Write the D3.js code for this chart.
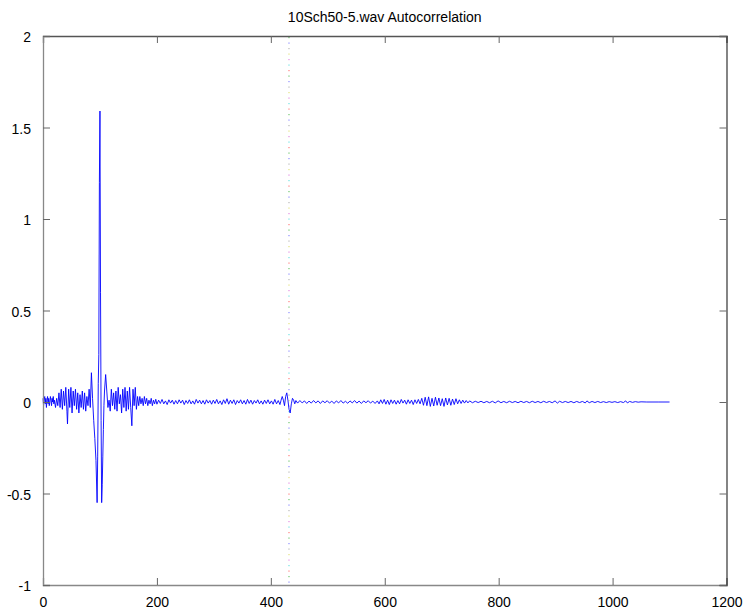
<!DOCTYPE html>
<html>
<head>
<meta charset="utf-8">
<script src="https://cdn.jsdelivr.net/npm/d3@7"></script>
<style>
  html, body { margin: 0; padding: 0; background: #fff; }
  svg { display: block; }
  text { font-family: "Liberation Sans", Arial, Helvetica, sans-serif; font-size: 14px; fill: #000; }
</style>
</head>
<body>
<script>
const chartTitle = "10Sch50-5.wav Autocorrelation";
const xTicks = [0, 200, 400, 600, 800, 1000, 1200];
const yTicks = [-1, -0.5, 0, 0.5, 1, 1.5, 2];
const xDomain = [0, 1200];
const yDomain = [-1, 2];
const markerLag = 431;
const markerColors = ["#55bb55", "#7777ff", "#aaaaaa", "#dddd66", "#dd77dd", "#55dddd", "#ff6666"];

// [lag, autocorrelation]
const headSegment = [
  [0,0.02],[1,-0.02],[2,0.01],[3,0.03],[4,-0.01],[5,0.02],[6,-0.03],[7,0.01],[8,0.03],[9,-0.01],
  [10,0.02],[11,-0.02],[12,0.0],[13,0.03],[14,0.01],[15,-0.02],[16,0.02],[17,0.0],[18,0.03],[19,-0.01],
  [20,0.01],[22,-0.03],[24,0.02],[26,-0.02],[28,0.05],[30,-0.03],[32,0.07],[34,-0.04],[36,0.06],[38,-0.02],
  [40,0.08],[42,-0.05],[43,-0.12],[45,0.07],[47,-0.03],[49,0.08],[51,-0.06],[53,0.06],[55,-0.02],[57,0.07],
  [59,-0.04],[61,0.05],[63,-0.06],[65,0.04],[67,-0.03],[69,0.06],[71,-0.04],[73,0.05],[75,-0.05],[77,0.03],
  [79,-0.02],[81,0.07],[83,-0.03],[85,0.16],[87,0.02],[89,-0.1],[91,-0.2],[93,-0.32]
];
const mainPulse = [
  [95,-0.55],[96,-0.3],[97,0.1],[98,0.26],[99,1.2],[100,1.59],[101,0.6],[102,-0.1],[103,-0.55],
  [104,-0.45],[105,-0.3],[106,-0.15],[107,-0.02],[108,0.06],[110,0.15],[112,0.06],[114,-0.03]
];
const decaySegment = [
  [116,0.01],[118,-0.05],[120,0.07],[122,-0.02],[124,0.05],[126,-0.04],[128,0.06],[130,-0.05],[132,0.08],
  [134,-0.01],[136,0.04],[138,-0.06],[140,0.07],[142,-0.03],[144,0.08],[146,-0.05],[148,0.06],[150,-0.04],
  [152,0.08],[154,-0.03],[156,-0.13],[158,0.07],[160,-0.02],[162,0.08],[164,-0.04],[166,0.03],[168,-0.02],
  [170,0.03],[172,-0.01],[174,0.02],[176,-0.02],[178,0.03],[180,-0.01],[182,0.02],[184,-0.02],[186,0.01],
  [188,-0.01],[190,0.02],[192,-0.02],[194,0.01],[196,-0.01],[198,0.015]
];
const quietSegment = [
  [200,-0.012],[203,0.01],[206,-0.008],[209,0.014],[212,-0.01],[215,0.006],[218,-0.014],[221,0.012],
  [224,-0.006],[227,0.01],[230,-0.012],[233,0.008],[236,-0.01],[239,0.012],[242,-0.006],[245,0.01],
  [248,-0.014],[251,0.008],[254,-0.008],[257,0.012],[260,-0.01],[263,0.006],[266,-0.012],[269,0.014],
  [272,-0.006],[275,0.01],[278,-0.01],[281,0.008],[284,-0.012],[287,0.012],[290,-0.006],[293,0.008],
  [296,-0.012],[299,0.01],[302,-0.008],[305,0.014],[308,-0.01],[311,0.006],[314,-0.014],[317,0.012],
  [320,-0.008],[323,0.018],[326,-0.012],[329,0.01],[332,-0.008],[335,0.012],[338,-0.014],[341,0.008],
  [344,-0.006],[347,0.012],[350,-0.01],[353,0.008],[356,-0.012],[359,0.014],[362,-0.008],[365,0.01],
  [368,-0.012],[371,0.008],[374,-0.006],[377,0.012],[380,-0.01],[383,0.006],[386,-0.012],[389,0.01],
  [392,-0.008],[395,0.012],[398,-0.01],[401,0.006],[404,-0.012],[407,0.014],[410,-0.01],[413,0.008],[416,-0.014]
];
const echoSegment = [
  [418,0.01],[420,0.03],[422,0.01],[424,-0.02],[426,0.03],[428,0.05],[430,0.01],[432,-0.04],[434,-0.06],
  [436,-0.01],[438,0.02],[440,0.01],[442,-0.01],[444,0.008]
];
const lateSegment = [
  [447,-0.006],[451,0.008],[455,-0.005],[459,0.006],[463,-0.008],[467,0.005],[471,-0.006],[475,0.008],
  [479,-0.005],[483,0.006],[487,-0.008],[491,0.006],[495,-0.004],[499,0.007],[503,-0.006],[507,0.005],
  [511,-0.008],[515,0.006],[519,-0.005],[523,0.008],[527,-0.006],[531,0.004],[535,-0.007],[539,0.006],
  [543,-0.005],[547,0.008],[551,-0.006],[555,0.005],[559,-0.008],[563,0.006],[567,-0.004],[571,0.007],
  [575,-0.006],[579,0.005],[583,-0.008],[587,0.006],
  [590,-0.01],[593,0.012],[596,-0.008],[599,0.014],[602,-0.012],[605,0.01],[608,-0.014],[611,0.012],
  [614,-0.008],[617,0.01],[620,-0.012],[623,0.008],[626,-0.01],[629,0.014],[632,-0.006],[635,0.01],
  [638,-0.012],[641,0.012],[644,-0.008],[647,0.01],[650,-0.014],[653,0.012],[656,-0.008],[659,0.014],
  [662,-0.01],[665,0.02],[668,-0.018],[671,0.026],[674,-0.02],[677,0.028],[680,-0.024],[683,0.02],
  [686,-0.022],[689,0.026],[692,-0.018],[695,0.022],[698,-0.02],[701,0.018],[704,-0.024],[707,0.022],
  [710,-0.016],[713,0.02],[716,-0.018],[719,0.016],[722,-0.014],[725,0.018],[728,-0.01],[731,0.012],
  [734,-0.008],[737,0.01],[740,-0.006],[743,0.008],[746,-0.005],[749,0.006],
  [754,-0.004],[759,0.004],[764,-0.003],[769,0.004],[774,-0.004],[779,0.003],[784,-0.004],[789,0.004],
  [794,-0.005],[799,0.006],[804,-0.004],[809,0.003],[814,-0.004],[819,0.004],[824,-0.003],[829,0.003],
  [834,-0.004],[839,0.004],[844,-0.003],[849,0.003],[854,-0.004],[859,0.004],[864,-0.003],[869,0.003],
  [874,-0.004],[879,0.004],[884,-0.003],[889,0.003],[894,-0.004],[899,0.006],[903,-0.006],[907,0.004],
  [912,-0.003],[917,0.003],[922,-0.003],[927,0.003],[932,-0.004],[937,0.003],[942,-0.003],[947,0.003],
  [952,-0.005],[955,0.006],[959,-0.004],[964,0.003],[969,-0.003],[974,0.003],[979,-0.003],[984,0.002],
  [989,-0.003],[994,0.002],[999,-0.002],[1004,0.002],[1009,-0.003],[1014,0.002],[1019,-0.003],[1023,0.006],
  [1026,-0.005],[1030,0.003],[1035,-0.002],[1040,0.002],[1045,-0.001],[1050,0.001],[1060,0.0],[1080,0.0],[1100,0.0]
];

const series = [].concat(headSegment, mainPulse, decaySegment, quietSegment, echoSegment, lateSegment);

const W = 747, H = 614;
const margin = { left: 43, right: 20.5, top: 36, bottom: 29 };
const svg = d3.select("body").append("svg").attr("width", W).attr("height", H);

const x = d3.scaleLinear().domain(xDomain).range([margin.left, W - margin.right]);
const y = d3.scaleLinear().domain(yDomain).range([H - margin.bottom, margin.top]);

// title
svg.append("text")
  .attr("x", (x.range()[0] + x.range()[1]) / 2)
  .attr("y", 22)
  .attr("text-anchor", "middle")
  .text(chartTitle);

// marker dotted line (multi-colour dots)
const dotStep = 5.5;
markerColors.forEach((c, i) => {
  svg.append("line")
    .attr("x1", x(markerLag) + 0.5).attr("x2", x(markerLag) + 0.5)
    .attr("y1", y.range()[1] + 1).attr("y2", y.range()[0])
    .attr("stroke", c)
    .attr("stroke-width", 1)
    .attr("stroke-dasharray", `1.2 ${dotStep * markerColors.length - 1.2}`)
    .attr("stroke-dashoffset", -(i * dotStep));
});

// data line
svg.append("path")
  .datum(series)
  .attr("fill", "none")
  .attr("stroke", "#0000ff")
  .attr("stroke-width", 0.9)
  .attr("stroke-linejoin", "round")
  .attr("d", d3.line().x(d => x(d[0])).y(d => y(d[1])));

// axes (MATLAB box with inward ticks)
const tickLen = 7;
const gBottom = svg.append("g").attr("transform", `translate(0,${y.range()[0]})`)
  .call(d3.axisBottom(x).tickValues(xTicks).tickSize(-tickLen).tickPadding(tickLen + 5).tickFormat(d3.format("d")));
const gTop = svg.append("g").attr("transform", `translate(0,${y.range()[1]})`)
  .call(d3.axisTop(x).tickValues(xTicks).tickSize(-tickLen).tickFormat(""));
const gLeft = svg.append("g").attr("transform", `translate(${x.range()[0]},0)`)
  .call(d3.axisLeft(y).tickValues(yTicks).tickSize(-tickLen).tickPadding(tickLen + 5).tickFormat(d => String(d)));
const gRight = svg.append("g").attr("transform", `translate(${x.range()[1]},0)`)
  .call(d3.axisRight(y).tickValues(yTicks).tickSize(-tickLen).tickFormat(""));

[gBottom, gTop, gLeft, gRight].forEach(g => {
  g.attr("font-family", null).attr("font-size", null);
  g.selectAll("text").style("font-size", "14px");
});
gBottom.select(".domain").attr("stroke", "#888").attr("stroke-width", 1.3);
gLeft.select(".domain").attr("stroke", "#888").attr("stroke-width", 1.3);
gTop.select(".domain").attr("stroke", "#555").attr("stroke-width", 1.3);
gRight.select(".domain").attr("stroke", "#444").attr("stroke-width", 1.3);
[gBottom, gTop, gLeft, gRight].forEach(g => g.selectAll(".tick line").attr("stroke", "#666"));
gBottom.selectAll("text").attr("dy", "0.71em");
gLeft.selectAll("text").attr("dy", "0.62em").attr("y", -3);
</script>
</body>
</html>
